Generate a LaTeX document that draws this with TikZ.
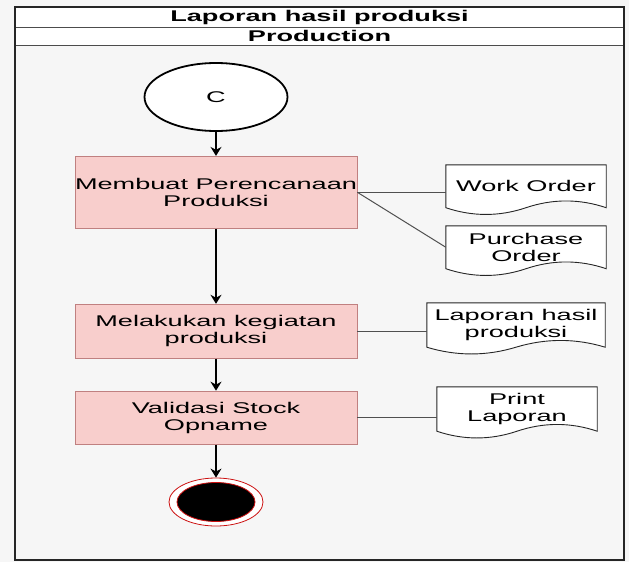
\documentclass[tikz,border=0pt]{standalone}
\usepackage{fontspec}
\setmainfont{Liberation Sans}[FakeStretch=1.75]
\usetikzlibrary{arrows.meta, shapes.geometric, calc}
\usetikzlibrary{positioning}

\pgfdeclarelayer{back}
\pgfsetlayers{back,main}

\definecolor{pagegray}{HTML}{F6F6F6}
\definecolor{procfill}{HTML}{F8CECC}
\definecolor{procline}{HTML}{C08080}
\definecolor{linkgray}{HTML}{505050}
\definecolor{endred}{HTML}{CC1111}

% outline of a document node, wavy bottom
\newcommand{\docoutline}[1]{%
	\draw[docline] (#1.north west) -- (#1.north east) -- (#1.south east)
	.. controls ($(#1.south east)!0.333!(#1.south)+(0,9)$) and ($(#1.south)!0.333!(#1.south east)+(0,9)$) .. (#1.south)
	.. controls ($(#1.south)!0.333!(#1.south west)+(0,-9)$) and ($(#1.south west)!0.333!(#1.south)+(0,-9)$) .. (#1.south west)
	-- cycle;}

\begin{document}
\begin{tikzpicture}[
	x = 1pt, y = 1pt,
	> = {Stealth[length=9pt, width=11pt]}, % arrow head style
	font = \fontsize{15.5}{17}\selectfont,
	procbox/.style = {rectangle, draw=procline, fill=procfill, line width=0.9pt, minimum width=282pt, align=center, inner sep=0pt},
	docbox/.style = {rectangle, align=center, inner sep=0pt},
	docline/.style = {draw=black!85, fill=white, line width=0.9pt},
	flow/.style = {->, line width=1.3pt, black},
	link/.style = {draw=linkgray, line width=1pt}
	]
	
	% pool and lane
	\begin{pgfonlayer}{back}
		\fill[pagegray] (0,0) rectangle (629,-562);
		\fill[white] (15,-7) rectangle (624,-45);
	\end{pgfonlayer}
	\draw[line width=1pt, black!70] (15,-27) -- (624,-27) (15,-45) -- (624,-45);
	\draw[line width=1.5pt, black!85] (15,-7) rectangle (624,-560);
	\node[font=\bfseries\fontsize{15.5}{17}\selectfont] (pool) at (319.5,-17) {Laporan hasil produksi};
	\node[font=\bfseries\fontsize{15.5}{17}\selectfont] (lane) at (319.5,-36) {Production};
	
	% flow
	\node[ellipse, draw, line width=1.8pt, fill=white, minimum width=143pt, minimum height=68pt] (start) at (216,-97) {C};
	\node[procbox, minimum height=72pt] (plan) [below=24pt of start] {Membuat Perencanaan\\Produksi};
	\node[procbox, minimum height=54pt] (make) [below=75pt of plan] {Melakukan kegiatan\\produksi};
	\node[procbox, minimum height=53pt] (check) [below=32pt of make] {Validasi Stock\\Opname};
	\node[ellipse, draw=endred, fill=white, line width=0.8pt, minimum width=94pt, minimum height=48pt] (finish) [below=33pt of check] {};
	\node[ellipse, draw=endred, fill=black, line width=0.8pt, minimum width=78pt, minimum height=39pt] (dot) at (finish) {};
	
	% documents
	\node[docbox, minimum width=160pt, minimum height=42.5pt] (wo) at (526,-186.25) {Work Order};
	\node[docbox, minimum width=160pt, minimum height=42.5pt] (po) at (526,-247.25) {Purchase\\Order};
	\node[docbox, minimum width=178pt, minimum height=44pt] (lhp) at (516,-325) {Laporan hasil\\produksi};
	\node[docbox, minimum width=160pt, minimum height=44pt] (print) at (517,-409) {Print\\Laporan};
	\begin{pgfonlayer}{back}
		\docoutline{wo}
		\docoutline{po}
		\docoutline{lhp}
		\docoutline{print}
	\end{pgfonlayer}
	
	\draw[flow] (start) -- (plan);
	\draw[flow] (plan) -- (make);
	\draw[flow] (make) -- (check);
	\draw[flow] (check) -- (finish);
	
	\draw[link] (plan.east) -- (plan.east -| wo.west);
	\draw[link] (plan.east) -- (po.west);
	\draw[link] (make.east) -- (make.east -| lhp.west);
	\draw[link] (check.east) -- (check.east -| print.west);
	
\end{tikzpicture}
\end{document}
